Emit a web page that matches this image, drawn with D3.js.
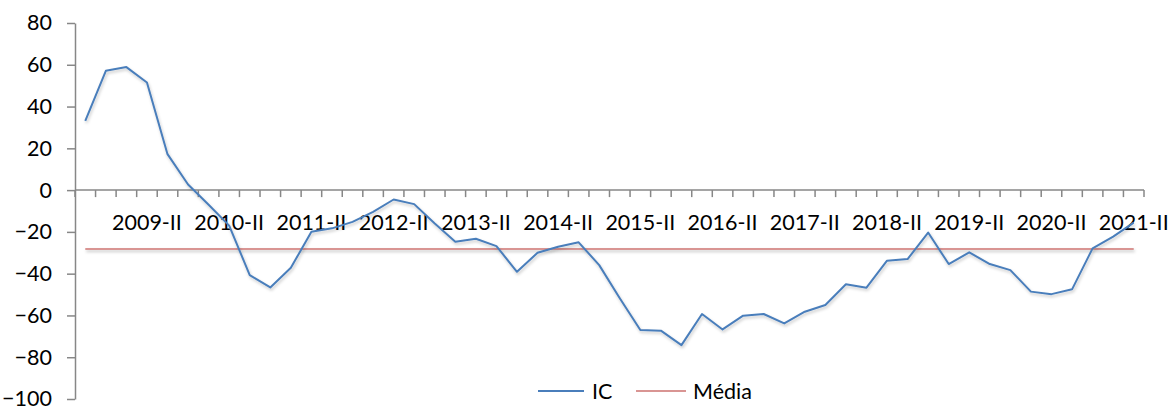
<!DOCTYPE html>
<html>
<head>
<meta charset="utf-8">
<script src="https://cdn.jsdelivr.net/npm/d3@7"></script>
<style>
  body { margin: 0; background: #fff; }
  svg text { font-family: Lato, "Open Sans", sans-serif; fill: #000; }
</style>
</head>
<body>
<svg width="1171" height="407"></svg>
<script>
// quarters 2008-III .. 2021-II
const quarters = [];
const romans = ['I', 'II', 'III', 'IV'];
for (let y = 2008; y <= 2021; y++) {
    romans.forEach(r => quarters.push(y + '-' + r));
}
const categories = quarters.slice(2, 54);

const icValues = [
    33.2, 57.1, 58.9, 51.5, 17.2, 2.7, -7.0, -17.0, -40.7, -46.6,
    -37.2, -19.9, -18.3, -15.2, -10.4, -4.5, -6.7, -16.0, -24.7, -23.3,
    -26.8, -39.1, -30.0, -27.1, -25.0, -35.9, -51.8, -67.0, -67.3, -74.2,
    -59.3, -66.7, -60.1, -59.3, -63.8, -58.2, -55.0, -45.1, -46.7, -33.8,
    -33.0, -20.3, -35.4, -29.8, -35.4, -38.3, -48.6, -49.8, -47.5, -27.9,
    -22.3, -15.6
];
const mediaValue = -28.2;

const yTicks = [80, 60, 40, 20, 0, -20, -40, -60, -80, -100];
const seriesNames = ['IC', 'Média'];
const seriesColors = ['#4a7ebb', '#d99593'];

const svg = d3.select('svg');
const fontSize = 21.5;

// drop shadow like the excel line effect
const defs = svg.append('defs');
const f = defs.append('filter').attr('id', 'shadow')
    .attr('filterUnits', 'userSpaceOnUse')
    .attr('x', 0).attr('y', 0).attr('width', 1171).attr('height', 407);
f.append('feDropShadow').attr('dx', 1).attr('dy', 2).attr('stdDeviation', 1.5)
    .attr('flood-color', '#000').attr('flood-opacity', 0.22);

const xs = d3.scaleBand().domain(categories).range([75, 1144]).padding(0);
const ys = d3.scaleLinear().domain([-100, 80]).range([399, 23]);
const cx = d => xs(d) + xs.bandwidth() / 2;

const axisColor = '#878787';

// y axis
const yAxis = svg.append('g').attr('transform', 'translate(75,0)')
    .call(d3.axisLeft(ys).tickValues(yTicks).tickSize(8).tickPadding(15).tickSizeOuter(0));
yAxis.select('.domain').attr('stroke', axisColor).attr('stroke-width', 1.5);
yAxis.selectAll('.tick line').attr('stroke', axisColor).attr('stroke-width', 1.5);
yAxis.selectAll('.tick text').attr('font-size', fontSize).attr('font-family', 'Lato, sans-serif').attr('fill', '#000');

// x axis along zero
const y0 = ys(0);
const xAxis = svg.append('g');
xAxis.append('line')
    .attr('x1', 75).attr('x2', 1144)
    .attr('y1', y0).attr('y2', y0)
    .attr('stroke', axisColor).attr('stroke-width', 1.5);
const edges = categories.map(c => xs(c)).concat([xs.range()[1]]);
xAxis.selectAll('.xtick').data(edges).enter().append('line')
    .attr('class', 'xtick')
    .attr('x1', d => d).attr('x2', d => d)
    .attr('y1', y0).attr('y2', y0 + 7)
    .attr('stroke', axisColor).attr('stroke-width', 1.5);
xAxis.selectAll('.xlabel').data(categories.filter((c, i) => i % 4 === 3)).enter()
    .append('text')
    .attr('class', 'xlabel')
    .attr('x', d => cx(d))
    .attr('y', y0 + 32)
    .attr('dy', '0.35em')
    .attr('text-anchor', 'middle')
    .attr('font-size', fontSize)
    .text(d => d);

// mean line
svg.append('line')
    .attr('x1', cx(categories[0])).attr('x2', cx(categories[categories.length - 1]))
    .attr('y1', ys(mediaValue)).attr('y2', ys(mediaValue))
    .attr('stroke', seriesColors[1]).attr('stroke-width', 2)
    .attr('filter', 'url(#shadow)');

// IC line
const line = d3.line().x((d, i) => cx(categories[i])).y(d => ys(d));
svg.append('path')
    .datum(icValues)
    .attr('d', line)
    .attr('fill', 'none')
    .attr('stroke', seriesColors[0])
    .attr('stroke-width', 2)
    .attr('stroke-linejoin', 'round')
    .attr('filter', 'url(#shadow)');

// legend
const legendX = [538, 636];
const legend = svg.selectAll('.legend').data(seriesNames).enter()
    .append('g').attr('class', 'legend')
    .attr('transform', (d, i) => `translate(${legendX[i]},391)`);
legend.append('line')
    .attr('x1', 0).attr('x2', (d, i) => i === 0 ? 46 : 50)
    .attr('y1', 0).attr('y2', 0)
    .attr('stroke', (d, i) => seriesColors[i]).attr('stroke-width', 2);
legend.append('text')
    .attr('x', (d, i) => i === 0 ? 54 : 57)
    .attr('y', 0)
    .attr('dy', '0.35em')
    .attr('font-size', fontSize)
    .text(d => d);
</script>
</body>
</html>
